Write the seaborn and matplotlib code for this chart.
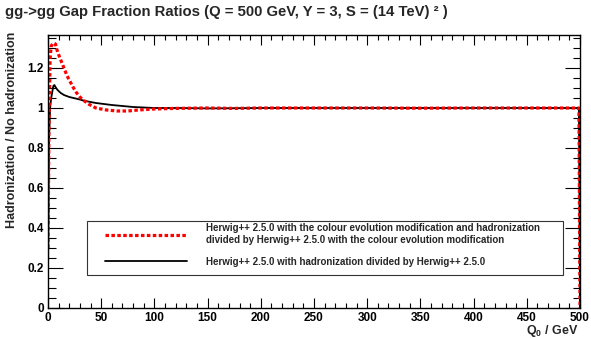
import numpy as np
import pandas as pd
import matplotlib
matplotlib.use("Agg")
import matplotlib.pyplot as plt
import seaborn as sns
from matplotlib.ticker import MultipleLocator, FuncFormatter
from matplotlib.patches import Rectangle

# ---------------- data ----------------
q0_black = [0, 1, 2, 3, 4, 5, 6, 7, 9, 12, 15, 20, 28, 35, 45, 60, 80, 100,
            125, 150, 175, 200, 250, 300, 350, 400, 450, 499, 500]
ratio_black = [0.15, 0.85, 1.00, 1.05, 1.08, 1.11, 1.115, 1.105, 1.09, 1.075,
               1.065, 1.055, 1.045, 1.035, 1.025, 1.015, 1.005, 1.0,
               1.0, 0.998, 0.999, 1.0, 1.0, 1.0, 1.0, 1.0, 1.0, 1.0, 0.0]

q0_red = [0, 1, 2, 3, 5, 7, 9, 12, 15, 18, 21, 24, 27, 30, 33, 38, 45, 55, 65,
          75, 85, 100, 120, 150, 175, 200, 250, 300, 350, 400, 450, 499, 500]
ratio_red = [0.30, 0.95, 1.25, 1.31, 1.325, 1.32, 1.28, 1.24, 1.20, 1.16, 1.13,
             1.10, 1.075, 1.055, 1.04, 1.02, 1.0, 0.99, 0.985, 0.985, 0.99,
             0.995, 0.998, 1.0, 0.998, 1.0, 1.0, 1.0, 0.999, 1.0, 1.0, 1.0, 0.0]

label_red = ("Herwig++ 2.5.0 with the colour evolution modification and hadronization\n"
             "divided by Herwig++ 2.5.0 with the colour evolution modification")
label_black = "Herwig++ 2.5.0 with hadronization divided by Herwig++ 2.5.0"

title = "gg->gg Gap Fraction Ratios (Q = 500 GeV, Y = 3, S = (14 TeV) \u00b2 )"
xlabel = "Q$_0$ / GeV"
ylabel = "Hadronization / No hadronization"

df_black = pd.DataFrame({"Q0": q0_black, "ratio": ratio_black})
df_red = pd.DataFrame({"Q0": q0_red, "ratio": ratio_red})

# ---------------- style ----------------
sns.set_theme(style="ticks")
plt.rcParams["font.family"] = ["Liberation Sans", "DejaVu Sans"]
plt.rcParams["font.weight"] = "bold"
plt.rcParams["mathtext.fontset"] = "custom"
plt.rcParams["mathtext.rm"] = "Liberation Sans:bold"
plt.rcParams["mathtext.it"] = "Liberation Sans:bold"
plt.rcParams["mathtext.bf"] = "Liberation Sans:bold"
plt.rcParams["axes.edgecolor"] = "black"

W, H = 591, 338
fig = plt.figure(figsize=(W / 100, H / 100), dpi=100)
ax = fig.add_axes([48 / W, 1 - 308 / H, 532 / W, 273 / H])

sns.lineplot(data=df_black, x="Q0", y="ratio", ax=ax, color="black", lw=1.3,
             sort=False, estimator=None, label=label_black)
sns.lineplot(data=df_red, x="Q0", y="ratio", ax=ax, color="#ff0000", lw=2.3,
             linestyle=(0, (1.1, 0.75)), sort=False, estimator=None, label=label_red)

ax.set_xlim(0, 500)
ax.set_ylim(0, 1.365)
ax.set_xlabel("")
ax.set_ylabel("")

ax.xaxis.set_major_locator(MultipleLocator(50))
ax.xaxis.set_minor_locator(MultipleLocator(10))
ax.yaxis.set_major_locator(MultipleLocator(0.2))
ax.yaxis.set_minor_locator(MultipleLocator(0.05))
ax.yaxis.set_major_formatter(FuncFormatter(lambda v, p: f"{v:g}"))

ax.tick_params(which="both", direction="in", top=True, right=True, colors="black",
               labelsize=8.5, width=0.8)
ax.tick_params(axis="x", which="major", length=7, pad=3)
ax.tick_params(axis="x", which="minor", length=3.6)
ax.tick_params(axis="y", which="major", length=10.8, pad=3)
ax.tick_params(axis="y", which="minor", length=5.4)
for lab in ax.get_xticklabels() + ax.get_yticklabels():
    lab.set_fontweight("bold")
for s in ax.spines.values():
    s.set_linewidth(1.0)
    s.set_color("black")

# legend box (frame) drawn separately, content placed inside
box = Rectangle(((87 - 48) / 532, (308 - 275) / 273), (563 - 87) / 532, 54 / 273,
                transform=ax.transAxes, facecolor="white", edgecolor="#333333",
                linewidth=0.8, zorder=4.9)
ax.add_patch(box)

handles, labels = ax.get_legend_handles_labels()
order = [labels.index(label_red), labels.index(label_black)]
leg = ax.legend([handles[i] for i in order], [labels[i] for i in order],
                loc="upper left", bbox_to_anchor=((105 - 48) / 532, (308 - 223) / 273),
                borderaxespad=0, borderpad=0, fontsize=7.0, handlelength=8.44,
                handletextpad=1.95, labelspacing=1.15, frameon=False)
leg.set_zorder(5)
for t in leg.get_texts():
    t.set_fontweight("bold")
    t.set_linespacing(1.3)

fig.text(5 / W, 1 - 12 / H, title, fontsize=10.7, fontweight="bold", ha="left", va="center")
fig.text(12 / W, 1 - 130 / H, ylabel, fontsize=9, fontweight="bold", rotation=90,
         ha="center", va="center")
fig.text(578 / W, 1 - 331 / H, xlabel, fontsize=9, fontweight="bold", ha="right", va="center")

fig.savefig("out.png", dpi=100, facecolor="white")
